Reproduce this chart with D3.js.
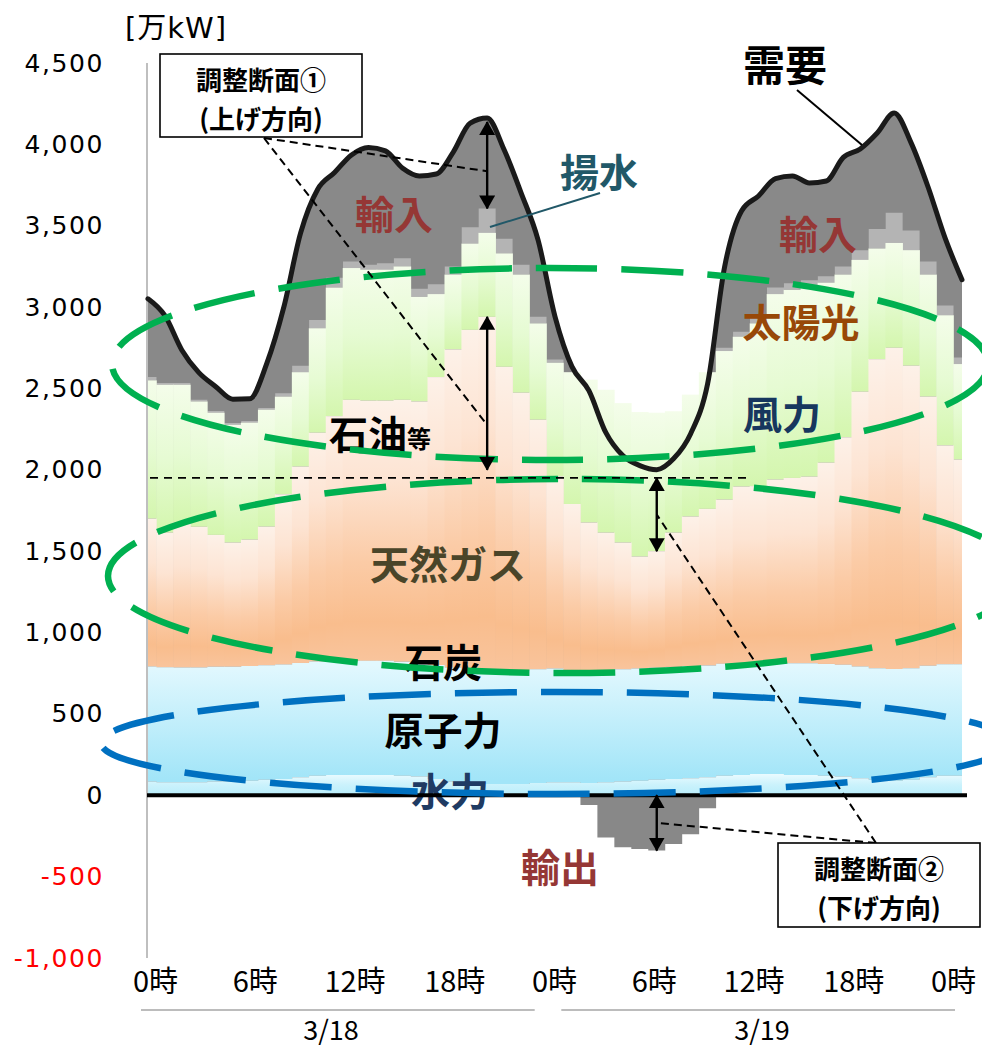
<!DOCTYPE html>
<html>
<head>
<meta charset="utf-8">
<script src="https://cdn.jsdelivr.net/npm/d3@7"></script>
<style>
  html, body { margin: 0; padding: 0; background: #fff; }
  svg { display: block; }
</style>
</head>
<body>
<svg id="chart" width="982" height="1048"></svg>
<script>
// 需給バランス 3/18 0時 〜 3/20 0時（1時間値, 万kW）
const hours = d3.range(0, 49);

const demand  = [3051,2947,2735,2597,2511,2434,2437,2652,2996,3456,3723,3827,3935,3981,3960,3855,3806,3818,3953,4131,4162,3967,3702,3413,2942,2634,2486,2228,2087,2026,2001,2069,2222,2529,3247,3591,3683,3790,3806,3763,3775,3920,3972,4070,4193,4009,3738,3425,3168];
const hydro   = [85,80,80,80,85,85,90,95,100,110,120,125,125,125,125,120,115,100,85,75,70,70,70,75,80,80,75,80,85,90,95,100,105,110,120,125,130,130,125,125,120,115,105,95,90,95,110,120,120];
const nuclear = [706,706,705,705,705,705,704,704,703,703,702,702,702,701,701,701,701,700,700,700,700,699,699,699,699,690,690,690,690,689,689,689,689,688,688,688,688,688,687,687,687,687,686,686,686,686,686,685,685];
const coal    = [350,350,350,350,350,350,350,350,350,350,350,350,350,350,350,350,350,350,350,350,350,350,350,350,350,350,350,350,350,350,350,350,350,350,350,350,350,350,350,350,350,350,350,350,350,350,350,350,350];
const lng     = [499,418,481,455,400,353,367,442,597,707,836,893,973,969,969,979,974,1090,1205,1285,1340,1134,1055,954,711,610,501,434,368,278,306,415,509,552,579,634,632,662,678,686,747,848,1039,1169,1224,1139,1004,795,748];
const oil     = [60,60,60,60,60,60,60,60,100,150,220,260,280,280,280,280,280,330,400,450,480,380,300,230,120,60,60,60,60,60,60,60,60,60,80,100,100,110,110,110,140,200,300,380,400,370,300,200,160];
const wind    = [850,909,847,770,751,724,719,689,500,380,342,410,390,385,425,520,443,410,430,530,516,697,726,592,698,810,878,878,857,888,851,716,649,640,613,541,580,720,776,867,906,900,780,680,644,710,750,800,587];
const solar   = [0,0,0,0,0,0,0,30,100,200,300,380,420,420,380,300,200,100,30,0,0,0,0,0,0,0,0,0,0,0,0,30,100,200,300,380,420,420,380,300,200,100,30,0,0,0,0,0,0];
const pumped  = [20,10,10,10,10,10,10,10,20,40,50,60,40,30,40,50,50,60,50,100,150,90,60,40,20,0,0,0,0,0,0,0,0,0,20,30,40,40,40,40,40,50,60,120,185,120,80,60,40];
const imports = [481,414,202,167,150,147,137,272,526,816,803,647,655,721,690,555,693,678,703,641,556,547,442,473,264,34,0,0,0,0,0,0,0,0,497,743,743,670,660,598,585,670,622,590,614,539,458,415,478];
const exports = [0,0,0,0,0,0,0,0,0,0,0,0,0,0,0,0,0,0,0,0,0,0,0,0,0,0,-60,-260,-320,-330,-340,-300,-240,-80,0,0,0,0,0,0,0,0,0,0,0,0,0,0,0];

const yTicks = [4500,4000,3500,3000,2500,2000,1500,1000,500,0,-500,-1000];
const xTickLabels = ["0時","6時","12時","18時","0時","6時","12時","18時","0時"];
const dateLabels = ["3/18","3/19"];
const adjustLevel = 1950;   // 調整断面の基準レベル

const JP = "'Noto Sans CJK JP', 'Noto Sans', sans-serif";
const NUM = "'DejaVu Sans', 'Noto Sans CJK JP', sans-serif";

const svg = d3.select("#chart");
const x = d3.scaleLinear().domain([0, 48]).range([148, 962]);
const y = d3.scaleLinear().domain([-1000, 4500]).range([958, 63]);

const rows = hours.map(i => ({
  hydro: hydro[i], nuclear: nuclear[i], coal: coal[i], lng: lng[i], oil: oil[i],
  wind: wind[i], solar: solar[i], pumped: pumped[i], imports: imports[i]
}));
const keys = ["hydro","nuclear","coal","lng","oil","wind","solar","pumped","imports"];
const S = {};
d3.stack().keys(keys)(rows).forEach(s => { S[s.key] = s; });

// ---- defs ----
const defs = svg.append("defs");
function grad(id, stops, attrs) {
  const g = defs.append("linearGradient").attr("id", id);
  Object.entries(attrs).forEach(([k, v]) => g.attr(k, v));
  stops.forEach(([o, c]) => g.append("stop").attr("offset", o).attr("stop-color", c));
}
grad("fossilGrad", [[0,"#fdf1e8"],[0.3,"#fde4d3"],[0.62,"#fbcba6"],[0.85,"#f9bd8d"],[1,"#f9c49c"]], {x1:0,y1:0,x2:0,y2:1});
grad("greenGrad", [[0,"#f4fdea"],[0.5,"#e6fbd3"],[1,"#d4f6ae"]], {x1:0,y1:0,x2:0,y2:1});
grad("nuclearGrad", [[0,"#e2f8fe"],[1,"#a2e5f8"]], {gradientUnits:"userSpaceOnUse", x1:0, x2:0, y1:y(800), y2:y(100)});
grad("hydroGrad", [[0,"#eafbff"],[0.5,"#cbf2fc"],[1,"#b9edfb"]], {gradientUnits:"userSpaceOnUse", x1:0, x2:0, y1:y(130), y2:y(0)});

defs.append("clipPath").attr("id", "plotClip")
  .append("rect").attr("x", x(0)).attr("y", 0).attr("width", x(48) - x(0)).attr("height", 1048);

const demandCurve = d3.curveMonotoneX;
defs.append("clipPath").attr("id", "underDemand")
  .append("path")
  .attr("d", d3.area().curve(demandCurve).x((d, i) => x(i)).y0(y(0)).y1(d => y(d))(demand));

defs.append("marker").attr("id", "arrowHead")
  .attr("markerUnits", "userSpaceOnUse")
  .attr("viewBox", "0 0 14 16").attr("refX", 13).attr("refY", 8)
  .attr("markerWidth", 14).attr("markerHeight", 16)
  .attr("orient", "auto-start-reverse")
  .append("path").attr("d", "M0,0 L14,8 L0,16 Z").attr("fill", "#000");

const plot = svg.append("g").attr("clip-path", "url(#plotClip)");
const colW = x(1) - x(0);

const stepArea = d3.area().curve(d3.curveStep)
  .x((d, i) => x(i)).y0(d => y(d[0])).y1(d => y(d[1]));

// 輸入（需要曲線の下だけ）
plot.append("g").attr("clip-path", "url(#underDemand)")
  .append("path")
  .attr("d", d3.area().curve(demandCurve).x((d, i) => x(i)).y0(y(0)).y1(d => y(d[1]))(S.imports))
  .attr("fill", "#898989");

// 輸出（負側）
plot.append("path")
  .attr("d", d3.area().curve(d3.curveStep).x((d, i) => x(i)).y0(y(0)).y1(d => y(d))(exports))
  .attr("fill", "#888888");

// 揚水
plot.append("path").attr("d", stepArea(S.pumped)).attr("fill", "#b4b4b4");

// 風力＋太陽光（時間ごとの柱）
plot.append("g").selectAll("rect").data(hours).join("rect")
  .attr("x", i => x(i) - colW / 2 - 0.3)
  .attr("width", colW + 0.6)
  .attr("y", i => y(S.solar[i][1]))
  .attr("height", i => y(S.wind[i][0]) - y(S.solar[i][1]))
  .attr("fill", "url(#greenGrad)");

// 石炭＋天然ガス＋石油等（時間ごとの柱）
plot.append("g").selectAll("rect").data(hours).join("rect")
  .attr("x", i => x(i) - colW / 2 - 0.3)
  .attr("width", colW + 0.6)
  .attr("y", i => y(S.oil[i][1]))
  .attr("height", i => y(S.coal[i][0]) - y(S.oil[i][1]))
  .attr("fill", "url(#fossilGrad)");

// ---- labels ----
function label(text, cx, cy, size, color, weight = 700, family = JP) {
  return svg.append("text")
    .attr("x", cx).attr("y", cy)
    .attr("text-anchor", "middle").attr("dominant-baseline", "central")
    .attr("font-family", family).attr("font-size", size).attr("font-weight", weight)
    .attr("fill", color).text(text);
}

label("石炭", 443, 660, 39, "#000");

// 原子力・水力
plot.append("path").attr("d", stepArea(S.nuclear)).attr("fill", "url(#nuclearGrad)");
plot.append("path").attr("d", stepArea(S.hydro)).attr("fill", "url(#hydroGrad)");

label("輸入", 394, 212, 39, "#953735");
label("輸入", 818, 232, 39, "#953735");
label("揚水", 599, 170, 39, "#215868");
label("太陽光", 801, 320, 39, "#984807");
label("風力", 782, 412, 39, "#17375e");
label("天然ガス", 448, 562, 39, "#4a4529");
label("原子力", 443, 728, 39, "#000");
label("水力", 450, 789, 39, "#1f3b63");
label("輸出", 560, 865, 39, "#953735");
label("需要", 785, 62, 42, "#000");

const oilLbl = svg.append("text").attr("x", 329).attr("y", 432)
  .attr("dominant-baseline", "central").attr("font-family", JP).attr("font-weight", 700).attr("fill", "#000");
oilLbl.append("tspan").attr("font-size", 39).text("石油");
oilLbl.append("tspan").attr("font-size", 24).attr("dy", 5).text("等");

// ---- axes ----
svg.append("line").attr("x1", 147).attr("x2", 147).attr("y1", y(4500)).attr("y2", y(-1000))
  .attr("stroke", "#bfbfbf").attr("stroke-width", 2);

const fmt = d3.formatLocale({ decimal: ".", thousands: ",", grouping: [3], currency: ["", ""], minus: "-" }).format(",");
const yAxis = svg.append("g").attr("transform", "translate(147,0)")
  .call(d3.axisLeft(y).tickValues(yTicks).tickFormat(fmt).tickSize(0).tickPadding(43));
yAxis.select(".domain").remove();
yAxis.selectAll("text")
  .attr("font-family", NUM).attr("font-size", 25).attr("letter-spacing", 1.6)
  .attr("fill", d => d < 0 ? "#ff0000" : "#000");

svg.append("text").attr("x", 176).attr("y", 28)
  .attr("text-anchor", "middle").attr("dominant-baseline", "central")
  .attr("font-family", NUM).attr("font-size", 29).attr("letter-spacing", 1).attr("fill", "#000").text("[万kW]");

const xLab = d3.scalePoint().domain(d3.range(xTickLabels.length)).range([155, 953]);
const xAxis = svg.append("g").attr("transform", "translate(0,960)")
  .call(d3.axisBottom(xLab).tickSize(0).tickPadding(11).tickFormat(i => xTickLabels[i]));
xAxis.select(".domain").remove();
xAxis.selectAll("text").attr("font-family", JP).attr("font-size", 29).attr("fill", "#000");

const dayScale = d3.scaleBand().domain(dateLabels).range([141, 969]).paddingInner(0.03);
dateLabels.forEach(dl => {
  svg.append("line").attr("x1", dayScale(dl)).attr("x2", dayScale(dl) + dayScale.bandwidth() - 14)
    .attr("y1", 1010).attr("y2", 1010).attr("stroke", "#a6a6a6").attr("stroke-width", 1.5);
});
label("3/18", 331, 1028, 27, "#000", 400);
label("3/19", 762, 1028, 27, "#000", 400);

// ゼロ線
svg.append("line").attr("x1", 147).attr("x2", 967).attr("y1", y(0)).attr("y2", y(0))
  .attr("stroke", "#000").attr("stroke-width", 4);

// 需要曲線
svg.append("path")
  .attr("d", d3.line().curve(demandCurve).x((d, i) => x(i)).y(d => y(d))(demand))
  .attr("fill", "none").attr("stroke", "#1a1a1a").attr("stroke-width", 5)
  .attr("stroke-linejoin", "round").attr("stroke-linecap", "round");

// ---- 調整範囲の楕円 ----
function ring(cx, cy, rx, ry, color) {
  svg.append("ellipse").attr("cx", cx).attr("cy", cy).attr("rx", rx).attr("ry", ry)
    .attr("fill", "none").attr("stroke", color).attr("stroke-width", 6.5)
    .attr("stroke-dasharray", "62 24");
}
ring(550, 364, 438, 96, "#00b050");
ring(564, 576, 456, 97, "#00b050");
ring(556, 743, 455, 51, "#0070c0");

// ---- 注記 ----
function dashed(x1, y1, x2, y2) {
  svg.append("line").attr("x1", x1).attr("y1", y1).attr("x2", x2).attr("y2", y2)
    .attr("stroke", "#000").attr("stroke-width", 2).attr("stroke-dasharray", "8 5");
}
function arrow(xx, y1, y2) {
  svg.append("line").attr("x1", xx).attr("x2", xx).attr("y1", y1).attr("y2", y2)
    .attr("stroke", "#000").attr("stroke-width", 2.4)
    .attr("marker-start", "url(#arrowHead)").attr("marker-end", "url(#arrowHead)");
}

// 基準レベル
svg.append("line").attr("x1", 150).attr("x2", 750).attr("y1", y(adjustLevel)).attr("y2", y(adjustLevel))
  .attr("stroke", "#000").attr("stroke-width", 1.8).attr("stroke-dasharray", "8 6");

const hUp = 20, hDown = 30;
const xUp = x(hUp), xDown = x(hDown);
const upTop = y(demand[hUp]), upBot = y(S.pumped[hUp][1]);
const fosTop = y(S.oil[hUp][1]);
arrow(xUp, upTop + 4, upBot);
arrow(xUp, fosTop, y(2000));
arrow(xDown, y(adjustLevel), y(S.oil[hDown][1]));
arrow(xDown, y(0), y(exports[hDown]));

dashed(264, 138, xUp, (upTop + upBot) / 2 + 8);
dashed(264, 138, xUp, 425);
dashed(876, 843, xDown, (y(adjustLevel) + y(S.oil[hDown][1])) / 2);
dashed(876, 843, xDown, (y(0) + y(exports[hDown])) / 2);

// 引出線
svg.append("line").attr("x1", 797).attr("y1", 90).attr("x2", 862).attr("y2", 145)
  .attr("stroke", "#000").attr("stroke-width", 2);
svg.append("line").attr("x1", 600).attr("y1", 193).attr("x2", 490).attr("y2", 227)
  .attr("stroke", "#215868").attr("stroke-width", 2);

function box(x0, y0, w, h, l1, l2) {
  svg.append("rect").attr("x", x0).attr("y", y0).attr("width", w).attr("height", h)
    .attr("fill", "#fff").attr("stroke", "#000").attr("stroke-width", 1.6);
  label(l1, x0 + w / 2, y0 + h * 0.29, 26, "#000");
  label(l2, x0 + w / 2, y0 + h * 0.76, 26, "#000");
}
box(160, 54, 202, 83, "調整断面①", "(上げ方向)");
box(778, 843, 202, 84, "調整断面②", "(下げ方向)");
</script>
</body>
</html>
